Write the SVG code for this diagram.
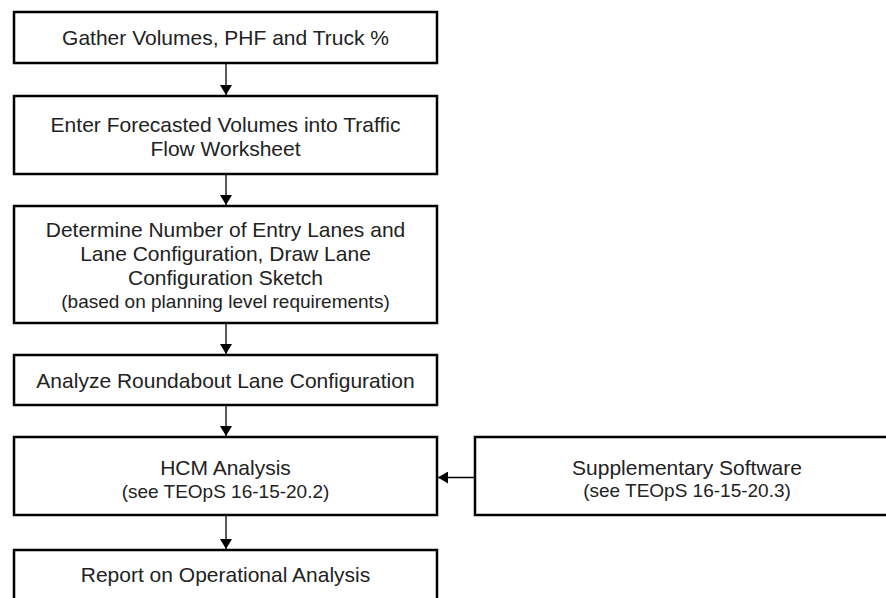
<svg xmlns="http://www.w3.org/2000/svg" width="886" height="598" viewBox="0 0 886 598">
<defs>
<style>
.box{fill:#fff;stroke:#000;stroke-width:2.5}
.t{font-family:"Liberation Sans",Arial,sans-serif;font-size:21px;fill:#222;text-anchor:middle}
.s{font-size:19px}
.c{stroke:#000;stroke-width:1.3;fill:none}
</style>
<marker id="ah" markerWidth="10" markerHeight="12" refX="10" refY="6" orient="auto" markerUnits="userSpaceOnUse">
<path d="M0,0 L10,6 L0,12 Z" fill="#000"/>
</marker>
</defs>
<rect width="886" height="598" fill="#fff"/>
<g id="n1"><rect class="box" x="14" y="12" width="423" height="51"/>
<text class="t" x="225.5" y="45">Gather Volumes, PHF and Truck %</text></g>
<g id="n2"><rect class="box" x="14" y="96" width="423" height="78"/>
<text class="t" x="225.5" y="132">Enter Forecasted Volumes into Traffic</text>
<text class="t" x="225.5" y="156">Flow Worksheet</text></g>
<g id="n3"><rect class="box" x="14" y="206" width="423" height="117"/>
<text class="t" x="225.5" y="237">Determine Number of Entry Lanes and</text>
<text class="t" x="225.5" y="261">Lane Configuration, Draw Lane</text>
<text class="t" x="225.5" y="285">Configuration Sketch</text>
<text class="t s" x="225.5" y="308">(based on planning level requirements)</text></g>
<g id="n4"><rect class="box" x="14" y="355" width="423" height="50"/>
<text class="t" x="225.5" y="388">Analyze Roundabout Lane Configuration</text></g>
<g id="n5"><rect class="box" x="14" y="437" width="423" height="78"/>
<text class="t" x="225.5" y="475">HCM Analysis</text>
<text class="t s" x="225.5" y="498">(see TEOpS 16-15-20.2)</text></g>
<g id="n6"><rect class="box" x="14" y="550" width="423" height="60"/>
<text class="t" x="225.5" y="582">Report on Operational Analysis</text></g>
<g id="n7"><rect class="box" x="475" y="437" width="425" height="78"/>
<text class="t" x="687" y="475">Supplementary Software</text>
<text class="t s" x="687" y="497">(see TEOpS 16-15-20.3)</text></g>
<g id="connectors">
<line class="c" x1="226" y1="63" x2="226" y2="95" marker-end="url(#ah)"/>
<line class="c" x1="226" y1="174" x2="226" y2="205" marker-end="url(#ah)"/>
<line class="c" x1="226" y1="323" x2="226" y2="354" marker-end="url(#ah)"/>
<line class="c" x1="226" y1="405" x2="226" y2="436" marker-end="url(#ah)"/>
<line class="c" x1="226" y1="515" x2="226" y2="549" marker-end="url(#ah)"/>
<line class="c" x1="475" y1="477.5" x2="438" y2="477.5" marker-end="url(#ah)"/>
</g>
</svg>
